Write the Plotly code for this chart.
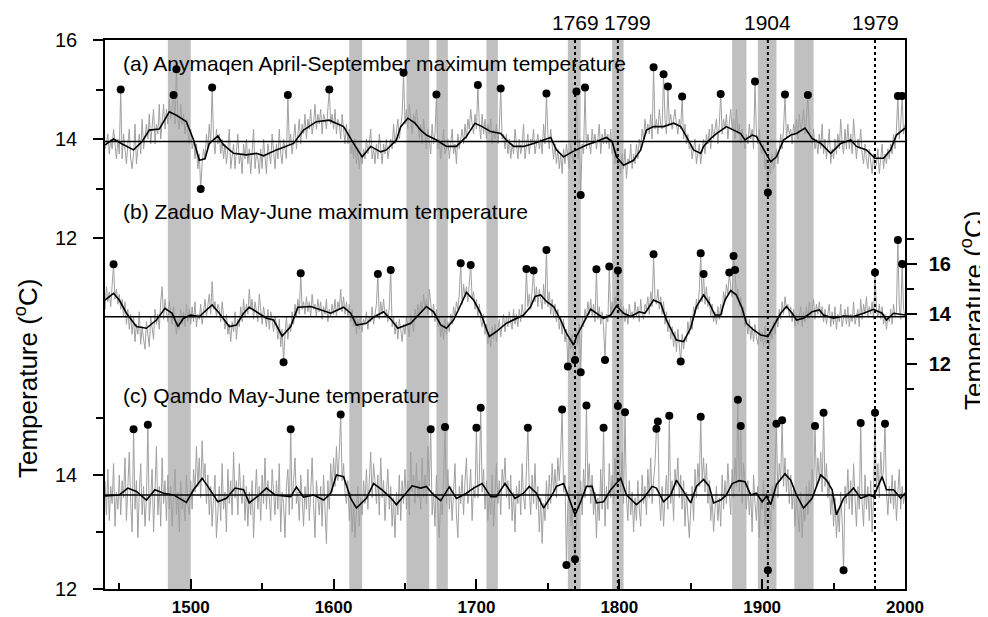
import plotly.graph_objects as go

# ---------------- data ----------------
years = list(range(1440, 2001))

# (a) Anymaqen April-September maximum temperature (annual, left axis top)
a_annual = [
 13.8, 13.9, 14.1, 13.7, 14.0, 13.8, 14.2, 13.9, 13.6, 14.0,
 13.7, 15.0, 13.6, 14.1, 13.8, 13.5, 13.9, 14.2, 13.6, 13.4,
 13.7, 14.3, 13.5, 13.9, 14.1, 13.7, 14.4, 13.8, 14.0, 14.3,
 14.0, 14.5, 13.9, 14.2, 14.6, 13.9, 14.3, 14.1, 14.7, 14.0,
 14.4, 14.7, 14.2, 14.6, 14.3, 14.8, 14.4, 14.6, 14.89, 14.3,
 15.41, 14.4, 14.2, 14.7, 14.3, 14.5, 14.1, 14.4, 14.2, 13.9,
 14.2, 13.8, 14.0, 13.6, 13.9, 13.4, 13.7, 12.99, 13.5, 13.8,
 13.6, 14.1, 13.8, 14.3, 13.9, 15.04, 14.0, 13.7, 14.2, 13.9,
 14.1, 13.7, 14.0, 13.6, 13.9, 13.5, 13.8, 14.2, 13.4, 13.7,
 13.9, 13.4, 13.8, 14.1, 13.5, 13.7, 13.3, 13.9, 13.6, 14.0,
 13.5, 13.8, 13.3, 13.9, 14.2, 13.4, 13.7, 13.6, 13.3, 13.8,
 13.4, 14.0, 13.6, 13.3, 13.9, 13.7, 13.5, 14.1, 13.8, 13.4,
 13.9, 13.6, 14.2, 13.7, 13.5, 14.0, 13.8, 13.6, 14.89, 13.9,
 14.1, 13.7, 14.0, 14.3, 13.8, 14.2, 14.4, 13.9, 14.3, 14.1,
 14.5, 14.0, 14.4, 14.2, 14.6, 14.1, 14.3, 14.7, 14.2, 14.5,
 14.3, 14.6, 14.1, 14.5, 14.4, 14.2, 14.7, 15.0, 14.3, 14.5,
 14.2, 14.6, 14.1, 14.4, 14.3, 14.0, 14.5, 14.2, 13.9, 14.3,
 13.9, 14.2, 13.7, 13.9, 13.6, 14.0, 13.5, 13.8, 13.4, 13.7,
 13.5, 13.8, 13.6, 14.0, 13.7, 13.9, 14.2, 13.6, 13.8, 13.5,
 13.9, 13.6, 14.1, 13.8, 13.5, 13.9, 13.7, 14.0, 13.6, 13.8,
 14.0, 13.8, 14.3, 13.9, 14.1, 14.4, 14.0, 14.3, 14.5, 15.34,
 14.3, 14.6, 14.2, 14.7, 14.4, 14.1, 14.5, 14.3, 14.6, 14.2,
 14.0, 14.3, 13.9, 14.4, 14.1, 13.8, 14.2, 14.0, 13.7, 14.3,
 13.9, 14.1, 14.9, 13.8, 14.0, 13.6, 13.9, 14.2, 13.7, 13.8,
 14.0, 13.6, 13.9, 14.2, 13.7, 13.9, 13.5, 14.1, 13.8, 14.0,
 14.2, 13.9, 14.3, 14.0, 14.4, 14.2, 14.6, 14.3, 14.1, 14.5,
 14.2, 15.09, 14.3, 14.0, 14.5, 14.1, 14.4, 14.0, 14.3, 14.1,
 14.4, 13.9, 14.2, 14.0, 14.3, 13.9, 14.2, 15.02, 14.0, 14.1,
 13.8, 14.1, 13.7, 14.0, 13.6, 13.9, 13.7, 14.2, 13.8, 13.6,
 14.0, 13.7, 13.9, 14.3, 13.6, 13.8, 14.1, 13.7, 14.0, 13.9,
 14.2, 13.7, 13.9, 14.1, 13.8, 14.0, 13.7, 14.3, 13.9, 14.92,
 14.1, 13.8, 14.2, 13.9, 13.6, 13.9, 13.5, 13.8, 13.4, 13.7,
 13.3, 13.8, 13.5, 13.9, 13.6, 13.4, 13.9, 13.7, 13.5, 13.8,
 14.96, 13.6, 14.0, 12.87, 13.9, 13.7, 15.04, 13.8, 14.1, 13.9,
 13.7, 14.2, 13.9, 14.1, 13.8, 14.0, 14.3, 13.7, 14.1, 13.9,
 14.2, 13.9, 14.1, 13.8, 14.2, 13.7, 13.9, 13.5, 13.8, 13.4,
 13.6, 13.3, 13.7, 13.4, 13.8, 13.2, 13.6, 13.5, 13.9, 13.4,
 13.7, 13.5, 13.9, 13.6, 14.0, 13.8, 14.2, 14.0, 14.4, 14.1,
 14.3, 14.1, 14.5, 14.0, 15.45, 14.2, 14.4, 14.1, 14.6, 14.3,
 14.2, 15.31, 14.4, 14.1, 15.06, 14.3, 14.5, 14.2, 14.4, 14.6,
 14.3, 14.1, 14.4, 14.2, 14.86, 14.0, 14.3, 13.9, 14.1, 13.8,
 13.9, 13.6, 13.8, 14.0, 13.5, 13.7, 13.9, 13.5, 13.8, 14.0,
 13.7, 14.1, 13.9, 14.2, 13.8, 14.3, 14.0, 14.2, 14.4, 13.9,
 14.3, 14.91, 14.1, 14.4, 14.2, 14.5, 14.0, 14.3, 14.6, 14.2,
 14.4, 14.0, 14.6, 14.1, 14.3, 13.9, 14.2, 14.0, 13.8, 14.1,
 13.9, 14.3, 14.0, 14.2, 13.8, 15.16, 14.1, 13.9, 14.2, 13.8,
 13.7, 13.9, 13.4, 13.6, 12.92, 13.5, 13.3, 13.7, 13.4, 13.6,
 13.8, 13.5, 13.9, 14.1, 13.8, 14.2, 14.9, 14.0, 14.3, 14.1,
 14.2, 13.9, 14.3, 14.1, 14.4, 14.0, 14.5, 14.2, 14.3, 14.6,
 14.1, 14.4, 14.89, 14.2, 14.0, 13.9, 14.2, 13.8, 14.0, 13.7,
 14.1, 13.8, 14.3, 13.7, 14.0, 13.6, 13.9, 14.2, 13.5, 13.8,
 13.6, 14.0, 13.7, 14.1, 13.8, 14.4, 13.9, 13.7, 14.2, 13.8,
 14.3, 13.8, 14.1, 13.7, 14.4, 13.9, 13.6, 14.0, 13.8, 14.2,
 13.7, 13.5, 13.9, 13.6, 13.4, 13.8, 13.5, 13.3, 13.7, 13.4,
 13.5, 13.8, 13.3, 13.6, 13.9, 13.4, 13.7, 13.5, 13.8, 13.6,
 13.9, 13.7, 14.1, 13.8, 14.2, 14.87, 14.0, 14.3, 14.87, 14.1,
 14.3]

a_smooth_years = [1440, 1446, 1452, 1460, 1466, 1471, 1478, 1485, 1490, 1497, 1502, 1506, 1510,
 1513, 1519, 1523, 1530, 1539, 1546, 1551, 1560, 1567, 1572, 1579, 1588, 1597, 1607, 1614, 1620,
 1626, 1633, 1637, 1644, 1647, 1652, 1657, 1661, 1665, 1672, 1679, 1686, 1693, 1699, 1704, 1710,
 1717, 1721, 1726, 1733, 1740, 1747, 1752, 1756, 1761, 1767, 1772, 1777, 1784, 1791, 1795, 1798,
 1803, 1810, 1815, 1819, 1824, 1831, 1838, 1843, 1847, 1852, 1857, 1859, 1864, 1868, 1875, 1880,
 1885, 1888, 1893, 1896, 1901, 1906, 1910, 1915, 1920, 1924, 1930, 1935, 1941, 1948, 1955, 1962,
 1966, 1973, 1979, 1985, 1990, 1994, 2000]
a_smooth = [13.88, 14.0, 13.9, 13.78, 13.95, 14.18, 14.2, 14.55, 14.48, 14.35, 13.98, 13.57, 13.6,
 13.91, 14.06, 13.88, 13.71, 13.68, 13.71, 13.66, 13.78, 13.85, 13.91, 14.18, 14.35, 14.38, 14.25, 13.91, 13.64,
 13.85, 13.74, 13.78, 13.98, 14.25, 14.42, 14.32, 14.18, 14.08, 13.98, 13.85, 13.85, 14.05, 14.32, 14.25, 14.15,
 14.11, 13.98, 13.85, 13.85, 13.91, 13.98, 14.03, 13.78, 13.64, 13.74, 13.81, 13.88, 13.95, 14.03, 13.95, 13.64,
 13.47, 13.57, 13.78, 14.18, 14.25, 14.25, 14.32, 14.25, 14.05, 13.78, 13.71, 13.85, 14.01, 14.11, 14.25, 14.18,
 14.11, 13.98, 14.08, 14.05, 13.78, 13.54, 13.64, 13.98, 14.08, 14.11, 14.22, 14.01, 13.91, 13.71, 13.91, 13.98,
 13.85, 13.78, 13.61, 13.61, 13.78, 14.08, 14.22]

a_ext_years = [1451, 1488, 1490, 1507, 1515, 1568, 1597, 1649, 1672, 1701, 1717, 1749, 1770, 1773,
 1776, 1824, 1831, 1834, 1844, 1871, 1895, 1904, 1916, 1932, 1995, 1998]
a_ext = [15.0, 14.89, 15.41, 12.99, 15.04, 14.89, 15.0, 15.34, 14.9, 15.09, 15.02, 14.92, 14.96, 12.87,
 15.04, 15.45, 15.31, 15.06, 14.86, 14.91, 15.16, 12.92, 14.9, 14.89, 14.87, 14.87]
a_mean = 13.95

# (b) Zaduo May-June maximum temperature (right axis)
b_annual = [
 14.2, 15.1, 14.5, 14.9, 14.3, 15.2, 16.0, 14.6, 15.0, 14.4,
 14.8, 14.2, 14.6, 13.9, 14.5, 13.6, 14.2, 13.4, 14.0, 13.2,
 13.9, 12.9, 13.6, 13.2, 14.1, 12.8, 13.5, 13.0, 12.6, 13.7,
 13.1, 12.7, 13.9, 13.3, 13.0, 14.2, 13.6, 14.0, 13.4, 14.5,
 15.1, 13.8, 14.6, 14.1, 13.7, 14.5, 14.0, 13.6, 14.3, 13.8,
 13.2, 13.8, 13.4, 14.2, 13.6, 14.1, 13.5, 14.4, 13.7, 14.2,
 13.6, 14.3, 13.7, 14.5, 13.5, 14.0, 13.8, 14.4, 13.6, 14.1,
 14.6, 13.9, 14.3, 14.8, 14.0, 15.3, 14.2, 14.5, 13.9, 14.4,
 14.2, 13.7, 14.5, 13.8, 13.4, 14.0, 13.2, 13.6, 12.9, 13.7,
 13.3, 14.1, 13.0, 13.8, 13.5, 14.3, 13.7, 14.6, 13.9, 14.4,
 14.0, 15.0, 14.2, 14.6, 13.8, 14.5, 14.1, 13.7, 14.8, 14.0,
 13.6, 14.3, 13.9, 13.5, 14.2, 13.4, 14.1, 13.8, 13.3, 13.9,
 13.6, 13.0, 13.8, 12.7, 13.4, 12.08, 13.2, 13.9, 13.0, 13.6,
 13.3, 14.1, 13.6, 14.4, 13.9, 14.6, 14.0, 15.64, 14.2, 14.5,
 14.0, 14.7, 14.1, 14.5, 13.9, 14.8, 14.2, 14.4, 13.9, 14.6,
 14.1, 14.5, 13.8, 14.3, 14.0, 14.6, 13.7, 14.2, 13.9, 14.4,
 14.0, 14.6, 13.9, 14.5, 14.2, 15.0, 14.1, 14.7, 14.0, 14.5,
 13.9, 14.4, 13.7, 14.2, 13.5, 13.9, 13.2, 13.8, 13.4, 13.9,
 13.3, 13.8, 13.6, 14.1, 13.4, 13.9, 13.7, 14.3, 13.6, 14.0,
 14.4, 15.61, 13.8, 14.5, 14.0, 14.6, 13.9, 14.2, 13.7, 14.3,
 15.77, 13.5, 13.9, 13.2, 13.7, 13.0, 13.8, 13.4, 12.9, 13.6,
 13.2, 13.9, 13.5, 13.1, 14.0, 13.6, 13.3, 14.2, 13.8, 14.4,
 13.9, 14.5, 14.1, 14.8, 14.2, 14.6, 14.0, 15.0, 14.3, 13.9,
 14.4, 13.7, 14.2, 13.5, 13.9, 13.1, 13.6, 13.0, 13.8, 13.2,
 13.7, 13.3, 14.0, 13.6, 14.3, 13.9, 14.5, 14.2, 14.8, 16.04,
 14.4, 15.2, 14.7, 15.1, 14.5, 15.3, 15.97, 14.6, 14.9, 14.2,
 14.6, 13.9, 14.4, 13.8, 13.5, 14.0, 13.2, 13.6, 12.8, 13.3,
 12.7, 13.5, 13.0, 13.6, 12.9, 13.4, 13.8, 13.1, 13.5, 14.0,
 13.3, 13.9, 13.5, 14.1, 13.7, 13.4, 14.2, 13.6, 14.0, 13.5,
 14.2, 13.7, 14.4, 13.9, 14.1, 15.81, 14.3, 14.8, 14.2, 14.9,
 15.75, 14.5, 15.1, 14.3, 15.0, 14.6, 14.2, 15.2, 14.4, 16.57,
 14.3, 14.9, 14.0, 14.6, 13.9, 14.4, 13.7, 14.2, 13.4, 13.9,
 13.2, 13.8, 12.9, 13.4, 11.91, 13.0, 12.6, 13.2, 12.4, 12.17,
 13.4, 12.8, 13.6, 11.68, 13.9, 13.5, 14.2, 13.8, 14.5, 14.0,
 14.6, 13.9, 14.4, 13.7, 15.8, 13.8, 14.3, 13.6, 14.1, 13.5,
 12.17, 14.0, 13.7, 15.91, 13.9, 14.5, 14.0, 14.7, 14.2, 15.75,
 14.0, 14.6, 13.8, 14.3, 13.7, 14.2, 13.6, 14.4, 13.9, 14.1,
 13.8, 14.5, 13.9, 14.3, 13.7, 14.6, 14.0, 13.8, 14.4, 14.2,
 14.7, 14.0, 14.9, 14.3, 16.4, 14.6, 14.4, 15.0, 14.2, 14.7,
 14.0, 14.5, 13.6, 14.1, 13.3, 13.8, 13.0, 13.5, 12.7, 13.3,
 12.5, 13.4, 12.8, 12.11, 13.2, 12.6, 13.1, 12.9, 13.7, 13.2,
 13.9, 13.4, 14.3, 14.0, 14.6, 14.2, 15.0, 16.44, 14.5, 15.61,
 14.4, 15.1, 14.3, 14.7, 13.9, 14.4, 13.7, 14.1, 13.6, 14.3,
 13.8, 14.4, 14.0, 14.9, 14.5, 15.2, 14.8, 15.67, 15.1, 14.7,
 16.33, 15.77, 14.6, 15.0, 14.3, 14.7, 13.9, 14.3, 13.5, 13.9,
 13.2, 13.8, 13.0, 13.5, 12.9, 13.6, 13.1, 12.8, 13.4, 12.9,
 13.3, 12.7, 13.5, 12.8, 13.1, 12.6, 13.4, 13.0, 13.7, 13.2,
 13.9, 13.5, 14.2, 13.8, 14.5, 14.0, 14.7, 14.2, 14.4, 13.9,
 14.3, 13.7, 14.2, 13.5, 14.0, 13.6, 13.9, 14.3, 13.5, 14.1,
 13.7, 14.3, 13.8, 14.5, 13.9, 14.2, 14.6, 13.8, 14.4, 14.0,
 14.5, 13.9, 14.3, 13.7, 14.2, 13.6, 14.0, 14.4, 13.5, 14.1,
 13.6, 14.3, 13.4, 14.0, 13.7, 14.4, 13.5, 13.9, 14.2, 13.6,
 14.3, 13.5, 14.0, 13.7, 14.5, 13.6, 13.9, 14.2, 13.5, 14.6,
 13.8, 14.4, 14.0, 14.7, 13.9, 14.3, 14.0, 14.5, 13.8, 15.67,
 14.2, 13.9, 14.4, 13.8, 14.3, 13.6, 14.0, 13.4, 13.9, 13.7,
 14.2, 13.6, 14.4, 13.9, 14.1, 16.97, 14.3, 13.8, 16.01, 14.2,
 13.9]

b_smooth_years = [1440, 1446, 1450, 1455, 1462, 1469, 1476, 1482, 1487, 1491, 1495, 1500, 1506,
 1515, 1520, 1527, 1532, 1537, 1541, 1546, 1553, 1558, 1564, 1570, 1575, 1584, 1591, 1598, 1607,
 1612, 1616, 1623, 1628, 1635, 1640, 1645, 1654, 1661, 1665, 1670, 1675, 1679, 1684, 1689, 1693,
 1698, 1703, 1709, 1714, 1721, 1728, 1733, 1738, 1741, 1745, 1749, 1754, 1759, 1763, 1768, 1770,
 1775, 1780, 1784, 1789, 1794, 1798, 1803, 1808, 1814, 1818, 1824, 1829, 1833, 1840, 1845, 1850,
 1854, 1859, 1863, 1867, 1871, 1874, 1878, 1882, 1886, 1889, 1894, 1899, 1904, 1908, 1913, 1917,
 1921, 1924, 1929, 1935, 1940, 1943, 1950, 1957, 1964, 1971, 1978, 1984, 1987, 1992, 2000]
b_smooth = [14.57, 14.84, 14.57, 14.04, 13.51, 13.44, 13.77, 14.24, 14.04, 13.51, 13.84, 13.97, 13.91,
 14.37, 14.04, 13.51, 13.57, 14.04, 14.28, 14.1, 13.84, 13.77, 13.13, 13.51, 14.28, 14.31, 14.17, 14.04, 14.28,
 14.04, 13.57, 13.64, 13.88, 14.1, 13.8, 13.44, 13.64, 14.04, 14.31, 14.1, 13.57, 13.44, 13.77, 14.37, 14.87,
 14.57, 14.04, 13.11, 13.31, 13.64, 13.84, 13.97, 14.31, 14.71, 14.77, 14.51, 14.31, 13.77, 13.24, 12.77, 13.11,
 13.64, 14.2, 14.04, 13.84, 13.97, 14.33, 14.04, 13.91, 14.1, 14.04, 14.57, 14.44, 13.77, 12.97, 12.91, 13.45,
 14.31, 14.77, 14.44, 13.97, 13.97, 14.57, 14.95, 14.77, 14.24, 13.64, 13.37, 13.17, 13.11, 13.51, 14.04, 14.31,
 14.04, 13.77, 13.84, 14.1, 14.17, 13.97, 13.84, 13.93, 13.91, 14.04, 14.2, 14.04, 13.77, 14.04, 13.97]

b_ext_years = [1446, 1565, 1577, 1631, 1640, 1689, 1696, 1735, 1740, 1749, 1764, 1769, 1773, 1784,
 1790, 1793, 1799, 1824, 1843, 1857, 1859, 1877, 1880, 1881, 1979, 1995, 1998]
b_ext = [16.0, 12.08, 15.64, 15.61, 15.77, 16.04, 15.97, 15.81, 15.75, 16.57, 11.91, 12.17, 11.68, 15.8,
 12.17, 15.91, 15.75, 16.4, 12.11, 16.44, 15.61, 15.67, 16.33, 15.77, 15.67, 16.97, 16.01]
b_mean = 13.9

# (c) Qamdo May-June temperature (left axis bottom)
c_annual = [
 13.9, 13.3, 14.1, 13.2, 13.8, 13.5, 14.2, 13.1, 13.7, 13.4,
 14.0, 13.3, 13.9, 13.6, 14.3, 13.2, 13.8, 14.4, 13.5, 13.0,
 14.8, 13.4, 13.9, 12.9, 13.7, 14.2, 13.3, 13.8, 13.1, 13.6,
 14.88, 13.2, 13.6, 14.1, 13.0, 13.9, 14.5, 13.3, 13.8, 13.1,
 14.3, 13.5, 13.9, 13.2, 14.0, 13.4, 13.8, 13.1, 13.6, 14.1,
 13.3, 13.7, 13.0, 13.9, 13.4, 13.6, 13.2, 14.0, 13.5, 13.3,
 13.9, 13.4, 14.1, 13.7, 14.5, 13.8, 14.3, 13.6, 14.6, 13.9,
 14.2, 13.5, 14.0, 13.3, 13.8, 13.1, 13.6, 14.0, 12.9, 13.5,
 13.8, 13.2, 14.2, 13.4, 13.7, 13.0, 14.1, 13.5, 13.9, 13.3,
 14.4, 13.6, 13.9, 13.3, 14.2, 13.7, 13.5, 14.0, 13.2, 13.8,
 13.1, 13.7, 13.3, 13.9, 12.9, 13.6, 14.1, 13.4, 13.8, 13.2,
 14.0, 13.5, 14.3, 13.4, 13.9, 13.6, 13.2, 14.1, 13.7, 13.3,
 13.9, 13.4, 14.2, 13.0, 13.7, 13.5, 12.9, 13.8, 14.1, 13.3,
 14.8, 13.4, 13.9, 14.3, 13.5, 13.7, 13.2, 14.0, 13.6, 13.1,
 13.8, 13.4, 14.1, 13.2, 13.7, 14.3, 13.5, 12.9, 13.9, 13.6,
 13.3, 13.8, 13.1, 14.0, 13.5, 12.8, 13.9, 13.4, 14.2, 13.7,
 14.3, 13.8, 14.5, 13.9, 14.4, 15.06, 13.9, 14.2, 13.7, 13.5,
 13.9, 13.2, 13.7, 13.0, 13.5, 12.9, 13.4, 13.8, 13.1, 13.6,
 13.3, 13.9, 13.5, 14.1, 13.4, 13.8, 14.4, 13.6, 14.2, 13.9,
 13.5, 14.0, 13.3, 14.3, 13.6, 13.9, 13.2, 13.7, 14.1, 13.4,
 13.8, 13.1, 13.6, 12.9, 13.7, 13.3, 14.0, 13.2, 13.9, 13.5,
 14.1, 13.4, 13.9, 13.3, 14.4, 13.7, 14.0, 13.5, 14.2, 13.6,
 13.9, 13.4, 14.3, 13.6, 14.0, 13.5, 14.5, 13.8, 14.8, 13.3,
 13.7, 13.1, 14.0, 13.4, 12.9, 13.6, 13.3, 13.9, 14.84, 13.5,
 14.1, 13.4, 13.8, 13.2, 13.7, 14.2, 13.3, 12.9, 13.8, 13.5,
 14.0, 13.3, 13.9, 14.3, 13.5, 13.7, 14.1, 13.2, 13.8, 13.6,
 14.83, 13.6, 13.9, 15.18, 13.7, 14.1, 13.4, 13.9, 13.2, 13.6,
 13.3, 14.0, 13.1, 13.7, 14.2, 13.5, 13.9, 13.3, 14.1, 13.8,
 14.3, 13.6, 13.9, 13.4, 14.0, 13.2, 13.7, 13.0, 13.8, 13.5,
 13.9, 13.3, 14.2, 13.6, 13.4, 14.1, 14.83, 13.7, 13.3, 14.0,
 13.5, 14.2, 13.4, 13.8, 13.0, 13.6, 12.8, 13.5, 13.2, 13.9,
 13.4, 14.0, 13.5, 14.2, 13.7, 14.1, 13.6, 14.3, 13.9, 14.4,
 15.15, 13.7, 14.0, 12.42, 13.5, 13.8, 13.1, 13.4, 12.8, 12.52,
 13.2, 13.7, 13.4, 13.9, 13.3, 14.1, 13.6, 15.22, 13.8, 14.2,
 13.5, 14.0, 13.3, 13.7, 12.9, 13.6, 13.2, 14.1, 13.4, 14.83,
 13.1, 13.8, 13.4, 14.2, 13.6, 14.0, 13.5, 14.3, 13.8, 15.21,
 14.1, 13.7, 14.4, 13.5, 15.1, 13.6, 13.2, 13.9, 13.3, 13.7,
 13.0, 13.6, 13.2, 13.9, 13.4, 13.1, 14.0, 13.5, 13.8, 13.3,
 14.1, 13.6, 14.3, 13.5, 13.9, 14.2, 14.81, 14.94, 13.6, 13.2,
 13.8, 13.1, 13.6, 14.0, 13.4, 15.04, 13.5, 13.9, 13.2, 14.1,
 13.8, 14.3, 13.6, 14.0, 13.4, 13.9, 13.1, 13.7, 13.3, 12.9,
 13.4, 13.8, 13.2, 14.1, 13.6, 14.2, 13.8, 15.02, 13.9, 14.3,
 13.7, 14.2, 13.5, 13.9, 13.2, 13.6, 13.0, 13.5, 13.8, 13.2,
 13.6, 13.1, 14.0, 13.4, 13.9, 13.5, 14.2, 13.7, 13.3, 14.1,
 13.6, 14.3, 13.8, 15.32, 13.7, 14.86, 13.5, 14.2, 13.9, 13.4,
 13.9, 13.3, 13.7, 13.0, 14.0, 13.5, 13.2, 13.8, 12.9, 13.6,
 13.4, 13.9, 13.1, 13.7, 12.33, 13.5, 13.0, 13.8, 13.4, 14.1,
 14.9, 13.6, 14.2, 13.9, 14.96, 13.8, 14.3, 13.7, 14.1, 13.5,
 14.0, 13.4, 13.8, 13.1, 13.6, 13.3, 13.0, 13.7, 12.9, 13.4,
 13.2, 13.8, 13.3, 13.9, 13.5, 14.1, 13.7, 14.86, 13.8, 14.3,
 13.9, 14.4, 13.7, 15.09, 13.8, 14.2, 13.6, 13.9, 13.3, 13.7,
 13.1, 13.6, 12.9, 13.4, 13.0, 13.7, 13.2, 12.33, 13.8, 13.5,
 14.1, 13.4, 13.9, 13.3, 14.2, 13.6, 13.1, 13.8, 13.4, 14.91,
 13.5, 13.1, 14.0, 13.4, 13.8, 13.2, 13.9, 13.0, 13.6, 15.09,
 13.7, 14.2, 13.6, 14.4, 13.9, 14.1, 14.9, 13.7, 13.3, 13.8,
 13.5, 14.0, 13.4, 13.9, 13.2, 13.7, 14.1, 13.4, 13.8, 13.5,
 13.7]

c_smooth_years = [1440, 1450, 1456, 1462, 1469, 1475, 1481, 1488, 1497, 1502, 1508, 1512, 1519,
 1525, 1531, 1537, 1541, 1548, 1553, 1559, 1570, 1574, 1579, 1586, 1593, 1598, 1602, 1607, 1612,
 1616, 1623, 1628, 1634, 1640, 1644, 1650, 1655, 1661, 1665, 1670, 1675, 1681, 1686, 1693, 1698,
 1704, 1710, 1714, 1720, 1727, 1733, 1737, 1742, 1747, 1753, 1756, 1761, 1764, 1769, 1773, 1777,
 1781, 1784, 1789, 1794, 1801, 1805, 1812, 1817, 1823, 1826, 1831, 1836, 1840, 1845, 1850, 1854,
 1859, 1863, 1866, 1871, 1875, 1879, 1884, 1888, 1892, 1896, 1900, 1903, 1906, 1910, 1916, 1920,
 1924, 1929, 1935, 1941, 1945, 1949, 1952, 1957, 1964, 1969, 1975, 1978, 1984, 1987, 1992, 1997, 2000]
c_smooth = [13.63, 13.65, 13.77, 13.71, 13.56, 13.74, 13.68, 13.65, 13.52, 13.74, 13.94, 13.8, 13.53,
 13.59, 13.77, 13.74, 13.51, 13.65, 13.77, 13.65, 13.62, 13.79, 13.61, 13.65, 13.56, 13.68, 14.0, 13.97, 13.59,
 13.42, 13.59, 13.85, 13.74, 13.6, 13.48, 13.65, 13.81, 13.77, 13.8, 13.65, 13.55, 13.79, 13.59, 13.68, 13.77,
 13.85, 13.62, 13.62, 13.85, 13.59, 13.68, 13.8, 13.68, 13.42, 13.65, 13.8, 13.85, 13.65, 13.3, 13.53, 13.8,
 13.8, 13.51, 13.53, 13.74, 13.94, 13.65, 13.48, 13.59, 13.8, 13.77, 13.53, 13.65, 13.91, 13.71, 13.51, 13.8,
 13.92, 13.8, 13.51, 13.56, 13.65, 13.85, 13.9, 13.88, 13.65, 13.68, 13.53, 13.63, 13.48, 13.83, 14.02, 13.91,
 13.65, 13.42, 13.59, 14.0, 13.91, 13.74, 13.3, 13.59, 13.77, 13.59, 13.65, 13.62, 13.97, 13.74, 13.74, 13.59, 13.68]

c_ext_years = [1460, 1470, 1570, 1605, 1668, 1678, 1700, 1703, 1736, 1760, 1763, 1769, 1777, 1789,
 1799, 1804, 1826, 1827, 1835, 1857, 1883, 1885, 1904, 1910, 1914, 1937, 1943, 1957, 1969, 1979, 1986]
c_ext = [14.8, 14.88, 14.8, 15.06, 14.8, 14.84, 14.83, 15.18, 14.83, 15.15, 12.42, 12.52, 15.22, 14.83,
 15.21, 15.1, 14.81, 14.94, 15.04, 15.02, 15.32, 14.86, 12.33, 14.9, 14.96, 14.86, 15.09, 12.33, 14.91, 15.09, 14.9]
c_mean = 13.65

# shaded periods and marked years
band_start = [1484, 1611, 1651, 1672, 1707, 1764, 1795, 1879, 1897, 1922.5]
band_end = [1500, 1620, 1667, 1680, 1715, 1773, 1803, 1889, 1910, 1936]
marked_years = [1769, 1799, 1904, 1979]
marked_labels = ["1769", "1799", "1904", "1979"]

x_tickvals = [1500, 1600, 1700, 1800, 1900, 2000]
x_minor = [1450, 1550, 1650, 1750, 1850, 1950]

panel_titles = ["(a) Anymaqen April-September maximum temperature",
                "(b) Zaduo May-June maximum temperature",
                "(c) Qamdo May-June temperature"]

# ---------------- figure ----------------
FONT = "Arial, 'Liberation Sans', sans-serif"
GRAY = "rgb(160,160,160)"
fig = go.Figure()

panels = [
    (a_annual, a_smooth_years, a_smooth, a_ext_years, a_ext, a_mean, "y"),
    (b_annual, b_smooth_years, b_smooth, b_ext_years, b_ext, b_mean, "y2"),
    (c_annual, c_smooth_years, c_smooth, c_ext_years, c_ext, c_mean, "y3"),
]

for ann, sy, sv, ey, ev, mean, yax in panels:
    n = min(len(ann), len(years))
    fig.add_trace(go.Scatter(x=years[:n], y=ann[:n], mode="lines", yaxis=yax,
                             line=dict(color=GRAY, width=1), hoverinfo="skip", showlegend=False))
    fig.add_trace(go.Scatter(x=[years[0], years[-1]], y=[mean, mean], mode="lines", yaxis=yax,
                             line=dict(color="black", width=1.6), hoverinfo="skip", showlegend=False))
    fig.add_trace(go.Scatter(x=sy, y=sv, mode="lines", yaxis=yax,
                             line=dict(color="black", width=1.6), showlegend=False))
    fig.add_trace(go.Scatter(x=ey, y=ev, mode="markers", yaxis=yax,
                             marker=dict(color="black", size=8), showlegend=False))

shapes = []
for s, e in zip(band_start, band_end):
    shapes.append(dict(type="rect", xref="x", yref="paper", x0=s, x1=e, y0=0, y1=1,
                       fillcolor="rgb(192,192,192)", line=dict(width=0), layer="below"))
for yr in marked_years:
    shapes.append(dict(type="line", xref="x", yref="paper", x0=yr, x1=yr, y0=0, y1=1,
                       line=dict(color="black", width=2, dash="dot"), layer="above"))
fig.update_layout(shapes=shapes)

# the page body has an 8px margin; geometry below is in window pixels
OFF = 8
PL, PR, PT, PB = 105, 905, 40, 589
PW, PH = PR - PL, PB - PT


def px_x(x):
    return (x - PL) / PW


def px_y(y):
    return (PB - y) / PH


annotations = []
label_x = [575, 627, 767, 875]
for txt, px in zip(marked_labels, label_x):
    annotations.append(dict(text=txt, xref="paper", yref="paper", x=px_x(px), y=px_y(23),
                            showarrow=False, xanchor="center", yanchor="middle",
                            font=dict(size=21, color="black", family=FONT)))
for txt, py in zip(panel_titles, [63, 211, 395]):
    annotations.append(dict(text=txt, xref="paper", yref="paper", x=px_x(121), y=px_y(py),
                            showarrow=False, xanchor="left", yanchor="middle",
                            font=dict(size=21, color="black", family=FONT)))
annotations.append(dict(text="Temperature (<sup>o</sup>C)", xref="paper", yref="paper",
                        x=px_x(26), y=px_y(379), textangle=-90, showarrow=False,
                        xanchor="center", yanchor="middle", font=dict(size=26, color="black", family=FONT)))
annotations.append(dict(text="Temperature (<sup>o</sup>C)", xref="paper", yref="paper",
                        x=px_x(972), y=px_y(311), textangle=-90, showarrow=False,
                        xanchor="center", yanchor="middle", font=dict(size=26, color="black", family=FONT)))
fig.update_layout(annotations=annotations)

axis_common = dict(showgrid=False, zeroline=False, showline=True, linecolor="black", linewidth=1.5,
                   tickcolor="black", tickwidth=1.5, automargin=False)

W, H = 988 - OFF, 617 - OFF
fig.update_layout(
    width=W, height=H,
    margin=dict(l=PL - OFF, r=W + OFF - PR, t=PT - OFF, b=H + OFF - PB),
    paper_bgcolor="white", plot_bgcolor="white",
    font=dict(family=FONT, color="black"),
    showlegend=False,
    xaxis=dict(range=[1440, 2000], mirror=True, ticks="inside", ticklen=10,
               tickvals=x_tickvals, ticktext=["<b>%d</b>" % v for v in x_tickvals],
               tickfont=dict(size=17, family=FONT), ticklabelstandoff=2,
               minor=dict(tickvals=x_minor, ticks="inside",
                          ticklen=6, tickwidth=1.5, tickcolor="black"),
               **axis_common),
    yaxis=dict(range=[4.909, 16], side="left", ticks="outside", ticklen=10,
               tickvals=[12, 14, 16], tickfont=dict(size=20, family=FONT), ticklabelstandoff=12,
               minor=dict(tickvals=[13, 15], ticks="outside", ticklen=7, tickwidth=1.5, tickcolor="black"),
               **axis_common),
    yaxis2=dict(range=[3.01, 24.97], overlaying="y", side="right", ticks="outside", ticklen=10,
                tickvals=[12, 14, 16], ticktext=["<b>12</b>", "<b>14</b>", "<b>16</b>"],
                tickfont=dict(size=20, family=FONT), ticklabelstandoff=8,
                minor=dict(tickvals=[11, 13, 15, 17], ticks="outside", ticklen=7, tickwidth=1.5, tickcolor="black"),
                **axis_common),
    yaxis3=dict(range=[12, 21.63], overlaying="y", side="left", ticks="outside", ticklen=10,
                tickvals=[12, 14], tickfont=dict(size=20, family=FONT), ticklabelstandoff=12,
                minor=dict(tickvals=[13, 15], ticks="outside", ticklen=7, tickwidth=1.5, tickcolor="black"),
                **axis_common),
)

fig.write_html("out.html")
